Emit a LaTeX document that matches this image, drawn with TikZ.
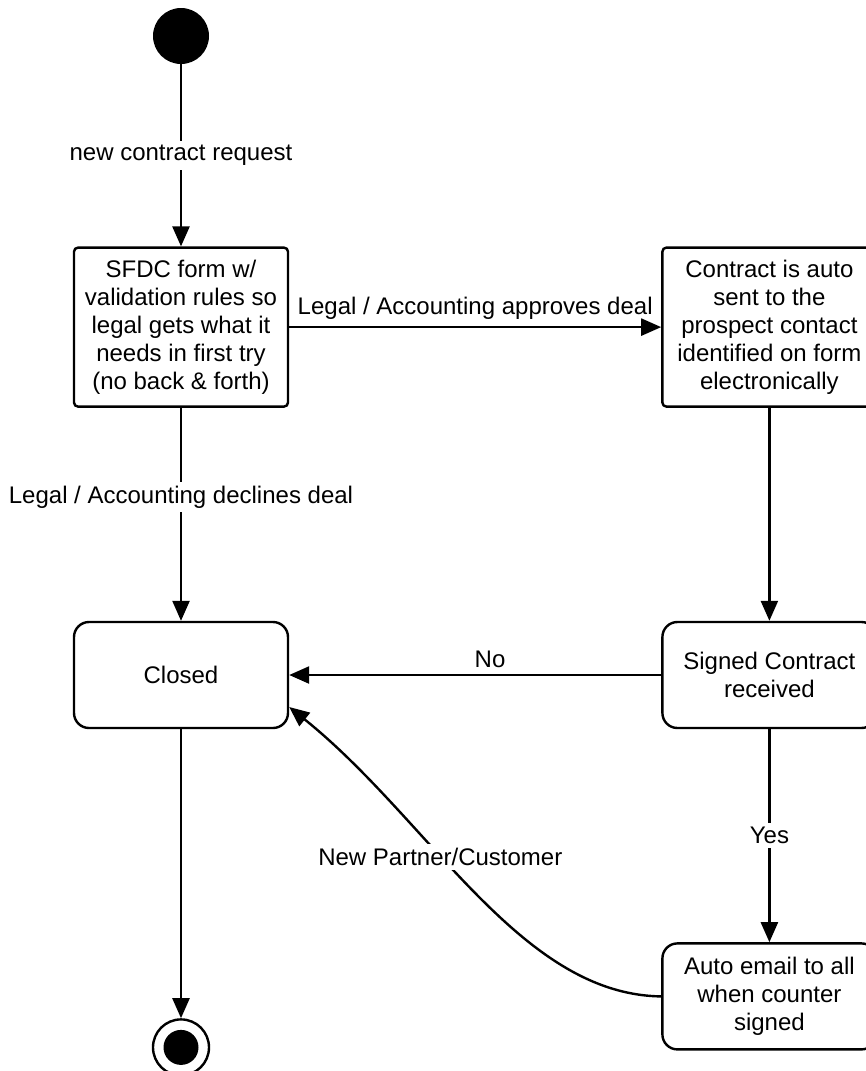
\documentclass[tikz,border=0pt]{standalone}
\usepackage{fontspec}
\setmainfont{Liberation Sans}
\usetikzlibrary{arrows.meta,positioning}

\begin{document}
\begin{tikzpicture}[
  x=0.5pt, y=-0.5pt,
  font=\fontsize{12}{14}\selectfont,
  startdot/.style={circle, fill=black, minimum size=28pt, inner sep=0pt},
  enddot/.style={circle, draw, line width=1.2pt, minimum size=28pt, inner sep=0pt,
    path picture={\fill (path picture bounding box.center) circle (8.75pt);}},
  action/.style={draw, line width=1.2pt, rounded corners=2pt, minimum width=107pt, minimum height=79.5pt, inner sep=2pt, align=center},
  status/.style={draw, line width=1.2pt, rounded corners=7.5pt, minimum width=107pt, minimum height=53pt, inner sep=2pt, align=center},
  arrow/.style={-{Triangle[length=10pt,width=8.5pt]}, line width=1.2pt},
  lbl/.style={fill=white, inner sep=2pt},
]
  \useasboundingbox (0,0) rectangle (866,1071);

  \node[startdot] (start) at (181,36) {};
  \node[action, below=91pt of start] (form) {SFDC form w/\\validation rules so\\legal gets what it\\needs in first try\\(no back \& forth)};
  \node[action, right=186pt of form] (contract) {Contract is auto\\sent to the\\prospect contact\\identified on form\\electronically};
  \node[status, below=106.5pt of form] (closed) {Closed};
  \node[status, below=106.5pt of contract] (signed) {Signed Contract\\received};
  \node[status, below=106.5pt of signed] (email) {Auto email to all\\when counter\\signed};
  \node[enddot, below=144.5pt of closed] (end) {};

  \draw[arrow] (start) -- node[lbl]{new contract request} (form);
  \draw[arrow] (form) -- node[above, inner sep=3pt]{Legal / Accounting approves deal} (contract);
  \draw[arrow] (form) -- node[lbl, pos=0.42]{Legal / Accounting declines deal} (closed);
  \draw[arrow] (contract) -- (signed);
  \draw[arrow] (signed) -- node[above, pos=0.46, inner sep=3pt]{No} (closed);
  \draw[arrow] (signed) -- node[lbl]{Yes} (email);
  \draw[arrow] (email.west) .. controls (520,994.5) and (430,820) .. node[lbl, pos=0.6]{New Partner/Customer} ([yshift=-16pt]closed.east);
  \draw[arrow] (closed) -- (end);
\end{tikzpicture}
\end{document}
